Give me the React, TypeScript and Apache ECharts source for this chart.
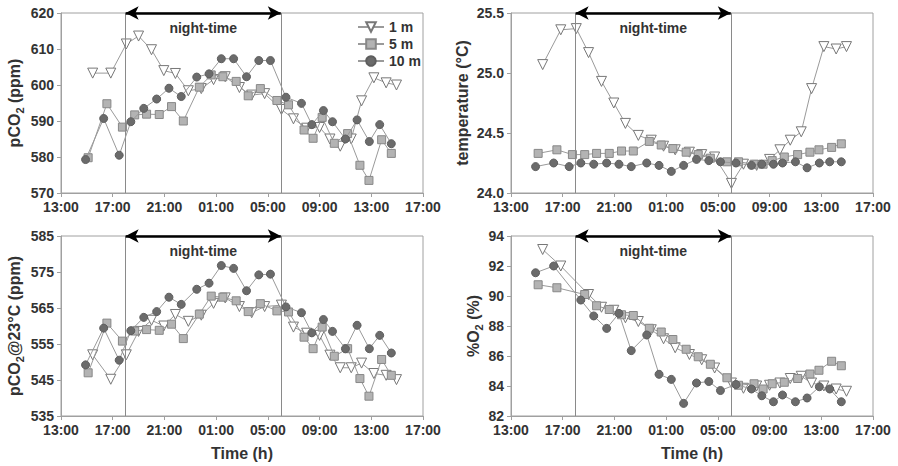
import React, { useEffect, useRef } from "react";
import * as echarts from "echarts";

// x values are hours after 13:00 (0 = 13:00, 28 = 17:00 next day)
const START_HOUR = 13;
const NIGHT_START = 5; // 18:00
const NIGHT_END = 17; // 06:00
const depths = ["1 m", "5 m", "10 m"];

const t1 = [2.45, 3.85, 5.05, 6.0, 7.0, 7.95, 8.85, 9.85, 10.85, 11.8, 12.7, 13.8, 14.75, 15.75, 17.05, 17.98, 19.0, 20.0, 20.8, 21.6, 22.45, 23.25, 24.2, 25.15, 25.95];
const t5 = [2.1, 3.55, 4.75, 5.7, 6.62, 7.6, 8.55, 9.46, 10.7, 11.62, 12.52, 13.55, 14.48, 15.42, 16.7, 17.6, 18.8, 19.5, 20.2, 21.14, 22.17, 23.12, 23.82, 24.8, 25.55];
const t10 = [1.9, 3.3, 4.5, 5.4, 6.4, 7.4, 8.35, 9.3, 10.5, 11.45, 12.4, 13.35, 14.35, 15.3, 16.2, 17.4, 18.6, 19.4, 20.3, 21.0, 22.0, 22.9, 23.85, 24.65, 25.55];

const pco2_1m = [603.3, 603.3, 611.4, 613.6, 609.8, 604, 603.2, 598.4, 599, 601.5, 602.3, 599.3, 597.2, 597.6, 593.2, 590.6, 588, 588.2, 585, 583, 585, 595.6, 602, 600.6, 600];
const pco2_5m = [579.8, 594.8, 588.3, 591.7, 591.9, 591.8, 594, 590, 599.4, 602.8, 602.3, 601, 597, 599, 595.7, 594.5, 587.5, 585.2, 591, 583.8, 586.5, 577.7, 573.5, 584.8, 581];
const pco2_10m = [579.3, 590.7, 580.5, 589.8, 593.5, 596.1, 599.1, 596.8, 602.2, 603.1, 607.3, 607.3, 602.3, 606.8, 606.8, 596.6, 594.9, 589, 592.9, 589.8, 585, 590.3, 584.3, 589, 583.7];

const temp_1m = [25.07, 25.36, 25.37, 25.17, 24.93, 24.75, 24.58, 24.48, 24.44, 24.39, 24.36, 24.34, 24.32, 24.3, 24.08, 24.24, 24.23, 24.28, 24.36, 24.44, 24.51, 24.87, 25.22, 25.2, 25.22];
const temp_5m = [24.33, 24.36, 24.32, 24.32, 24.33, 24.33, 24.35, 24.35, 24.43, 24.4, 24.37, 24.34, 24.32, 24.29, 24.26, 24.26, 24.24, 24.24, 24.27, 24.3, 24.32, 24.34, 24.36, 24.38, 24.41];
const temp_10m = [24.22, 24.25, 24.22, 24.25, 24.24, 24.25, 24.24, 24.22, 24.25, 24.23, 24.18, 24.23, 24.28, 24.27, 24.26, 24.25, 24.23, 24.24, 24.24, 24.25, 24.26, 24.21, 24.25, 24.26, 24.26];

const pco2c_1m = [552, 545.2, 552, 558.5, 561.6, 560, 563.2, 561.3, 563, 566.3, 567.8, 565.4, 563.7, 565.4, 565.8, 559.7, 558, 557.4, 551.9, 548.4, 548.4, 549.7, 546.8, 546.3, 545.1];
const pco2c_5m = [547, 560.8, 555.8, 558.6, 559, 558.8, 560.5, 556.5, 563.3, 568.3, 568, 567, 564, 566.2, 564.2, 563.9, 556.9, 553.7, 559.7, 551.6, 553.7, 545.4, 540.5, 550.7, 546.3];
const pco2c_10m = [549.2, 559.4, 550.5, 558.7, 562.4, 564, 568, 566, 570.2, 571.9, 576.8, 576, 569.8, 574.2, 574.4, 565.3, 563.7, 558.1, 561.8, 558.5, 553.7, 560.2, 553.7, 557.4, 552.5];

const o2_1m = [93.1, 92.0, null, 90.1, 89.25, 89.05, 88.55, 88.3, 87.75, 87.15, 86.55, 86.1, 85.75, 85.2, 84.2, 83.85, 84.0, 84.05, 84.2, 84.5, 84.65, 84.2, 84.0, 83.8, 83.65];
const o2_5m = [90.75, 90.55, null, 90.1, 89.35, 89.1, 88.75, 88.7, 87.85, 87.6, 87.1, 86.45, 85.95, 85.45, 84.55, 84.05, 84.15, 83.8, 84.15, 84.25, 84.5, 84.8, 85.05, 85.65, 85.35];
const o2_10m = [91.55, 92.0, null, 89.73, 88.67, 87.84, 88.84, 86.36, 87.4, 84.78, 84.44, 82.84, 84.2, 84.3, 83.7, 84.1, 83.8, 83.35, 82.95, 83.4, 82.95, 83.2, 83.95, 83.8, 82.95];

const yMin = [570, 24.0, 535, 82];
const yMax = [620, 25.5, 585, 94];
const yStep = [10, 0.5, 10, 2];
const yNames = [
  "{a|pCO}{s|2}{a| (ppm)}",
  "{a|temperature (°C)}",
  "{a|pCO}{s|2}{a|@23°C (ppm)}",
  "{a|%O}{s|2}{a| (%)}",
];
const xMin = 0;
const xMax = 28;
const xStep = 4;

const FONT = "'Liberation Sans', Arial, sans-serif";
const TXT = "#333";
const AX = "#a0a0a0";

export default function App() {
  const ref = useRef<HTMLDivElement>(null);
  useEffect(() => {
    if (!ref.current) return;
    const chart = echarts.init(ref.current, undefined, { renderer: "svg" });
    const times = [t1, t5, t10];
    const panels = [
      [pco2_1m, pco2_5m, pco2_10m],
      [temp_1m, temp_5m, temp_10m],
      [pco2c_1m, pco2c_5m, pco2c_10m],
      [o2_1m, o2_5m, o2_10m],
    ];
    const lefts = [61, 511, 61, 511];
    const tops = [13, 13, 236, 236];
    const nameGaps = [39, 41, 39, 27];
    const grids = lefts.map((l, i) => ({
      left: l,
      top: tops[i],
      width: 362,
      height: 180,
      show: true,
      borderColor: AX,
      borderWidth: 1,
    }));
    const xAxes = grids.map((_, i) => ({
      type: "value",
      gridIndex: i,
      min: xMin,
      max: xMax,
      interval: xStep,
      name: i >= 2 ? "Time (h)" : "",
      nameLocation: "middle",
      nameGap: 29,
      nameTextStyle: { fontFamily: FONT, fontWeight: "bold", fontSize: 16, color: TXT },
      axisLine: { show: true, lineStyle: { color: AX } },
      axisTick: { show: true, length: 4, lineStyle: { color: AX } },
      splitLine: { show: false },
      axisLabel: {
        fontFamily: FONT,
        fontWeight: "bold",
        fontSize: 14,
        color: TXT,
        margin: 7,
        formatter: (v: number) => {
          const h = (START_HOUR + v) % 24;
          return (h < 10 ? "0" : "") + h + ":00";
        },
      },
    }));
    const yAxes = grids.map((_, i) => ({
      type: "value",
      gridIndex: i,
      min: yMin[i],
      max: yMax[i],
      interval: yStep[i],
      name: yNames[i],
      nameLocation: "middle",
      nameGap: nameGaps[i],
      nameRotate: 90,
      nameTextStyle: {
        fontFamily: FONT,
        rich: {
          a: { fontFamily: FONT, fontWeight: "bold", fontSize: 16, color: TXT },
          s: { fontFamily: FONT, fontWeight: "bold", fontSize: 11, color: TXT, verticalAlign: "bottom", padding: [0, 0, -3, 0] },
        },
      },
      axisLine: { show: true, lineStyle: { color: AX } },
      axisTick: { show: true, length: 4, lineStyle: { color: AX } },
      splitLine: { show: false },
      axisLabel: {
        fontFamily: FONT,
        fontWeight: "bold",
        fontSize: 14,
        color: TXT,
        margin: 7,
        formatter: (v: number) => (i === 1 ? v.toFixed(1) : String(v)),
      },
    }));
    const symbols = ["triangle", "rect", "circle"];
    const symRot = [180, 0, 0];
    const symSize = [10, 8, 8];
    const fills = ["#ffffff", "#b3b3b3", "#6b6b6b"];
    const borders = ["#777777", "#888888", "#5e5e5e"];
    const series: any[] = [];
    panels.forEach((vals, p) => {
      vals.forEach((arr, d) => {
        const s: any = {
          type: "line",
          name: depths[d],
          xAxisIndex: p,
          yAxisIndex: p,
          data: times[d].map((t, k) => [t, arr[k]]),
          connectNulls: true,
          clip: false,
          symbol: symbols[d],
          symbolRotate: symRot[d],
          symbolSize: symSize[d],
          lineStyle: { color: "#9a9a9a", width: 1 },
          itemStyle: { color: fills[d], borderColor: borders[d], borderWidth: 1 },
          z: 3 + d,
        };
        if (d === 0) {
          s.markLine = {
            silent: true,
            symbol: ["none", "none"],
            animation: false,
            label: { show: false },
            lineStyle: { color: "#8a8a8a", width: 1, type: "solid" },
            data: [
              { xAxis: NIGHT_START },
              { xAxis: NIGHT_END },
              [
                {
                  coord: [NIGHT_START, yMax[p]],
                  symbol: "arrow",
                  symbolSize: [10, 13],
                  lineStyle: { color: "#000", width: 2.5, type: "solid" },
                  label: {
                    show: true,
                    formatter: "night-time",
                    position: "insideMiddleBottom",
                    distance: 8,
                    fontFamily: FONT,
                    fontWeight: "bold",
                    fontSize: 14,
                    color: TXT,
                  },
                },
                { coord: [NIGHT_END, yMax[p]], symbol: "arrow", symbolSize: [10, 13] },
              ],
            ],
          };
        }
        series.push(s);
      });
    });
    chart.setOption({
      animation: false,
      backgroundColor: "#ffffff",
      grid: grids,
      xAxis: xAxes,
      yAxis: yAxes,
      legend: {
        data: depths,
        orient: "vertical",
        left: 352,
        top: 15,
        itemWidth: 26,
        itemHeight: 12,
        itemGap: 3,
        textStyle: { fontFamily: FONT, fontWeight: "bold", fontSize: 14, color: TXT },
      },
      series,
    });
    return () => chart.dispose();
  }, []);
  return (
    <div
      ref={ref}
      style={{ position: "fixed", left: 0, top: 0, width: 898, height: 466, background: "#fff" }}
    />
  );
}
